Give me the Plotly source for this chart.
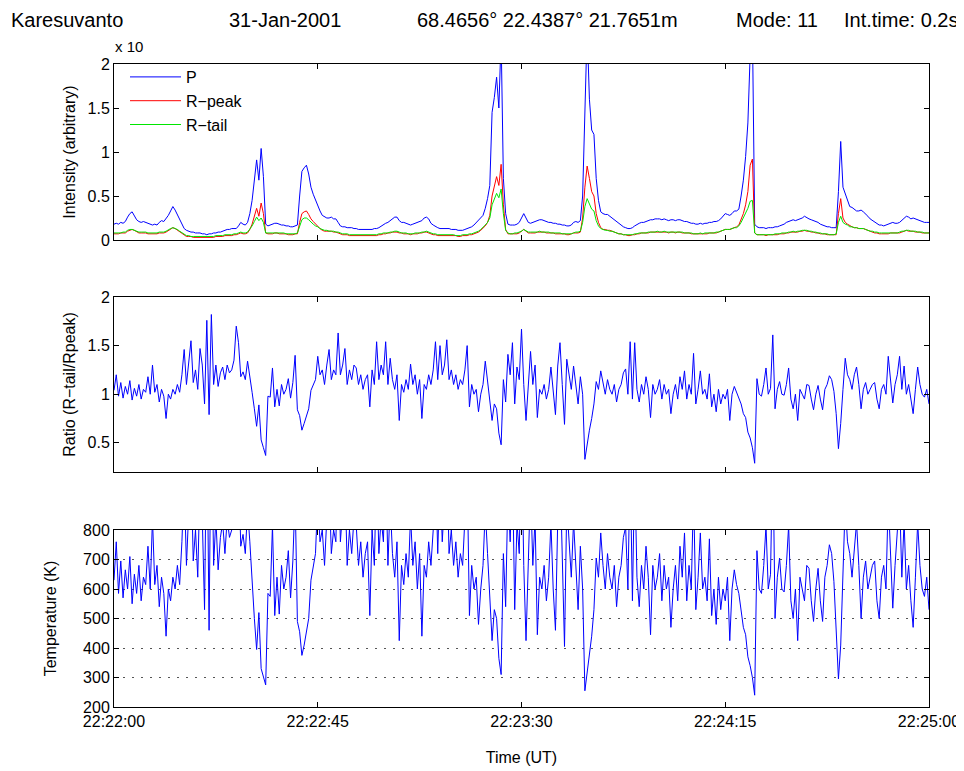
import pandas as pd
import plotly.graph_objects as go
from plotly.subplots import make_subplots

# ---------------- data ----------------
START = "2001-01-31 22:22:00"
END = "2001-01-31 22:25:00"
TIME = pd.date_range(START, periods=361, freq="500ms")

TICK_VALS = ["2001-01-31 22:22:00", "2001-01-31 22:22:45", "2001-01-31 22:23:30",
             "2001-01-31 22:24:15", "2001-01-31 22:25:00"]
TICK_LABELS = ["22:22:00", "22:22:45", "22:23:30", "22:24:15", "22:25:00"]

P = [0.18, 0.19, 0.18, 0.2, 0.19, 0.21,
     0.26, 0.3, 0.32, 0.28,
     0.23, 0.21, 0.2, 0.21, 0.2,
     0.19, 0.18, 0.17, 0.18, 0.17, 0.2,
     0.22, 0.21, 0.24, 0.28, 0.33,
     0.38, 0.34, 0.29,
     0.24, 0.18, 0.13, 0.11, 0.1,
     0.09, 0.09, 0.08, 0.08, 0.08, 0.07, 0.07,
     0.06, 0.07, 0.07, 0.08, 0.08, 0.09, 0.09,
     0.1, 0.11, 0.12, 0.12, 0.13, 0.13, 0.13,
     0.16, 0.2, 0.18, 0.17, 0.2,
     0.3, 0.45, 0.65,
     0.91, 0.68, 1.04, 0.72, 0.18,
     0.16, 0.17, 0.18, 0.19, 0.19, 0.18, 0.17,
     0.17, 0.16, 0.16, 0.15, 0.15, 0.16, 0.17,
     0.5, 0.78, 0.82, 0.85, 0.75, 0.6, 0.52, 0.45, 0.4,
     0.33, 0.28, 0.26, 0.25, 0.25,
     0.26, 0.24, 0.24, 0.2, 0.16,
     0.15, 0.15, 0.14, 0.14, 0.14, 0.13, 0.13, 0.12,
     0.12, 0.12, 0.12, 0.12, 0.12, 0.12, 0.13, 0.13, 0.14, 0.16,
     0.18, 0.19, 0.2, 0.22, 0.24, 0.26,
     0.26, 0.22, 0.2, 0.2, 0.19, 0.18, 0.17,
     0.18, 0.19, 0.2, 0.21, 0.22, 0.25, 0.26,
     0.24, 0.19, 0.17, 0.15, 0.14, 0.13, 0.13,
     0.13, 0.13, 0.13, 0.12, 0.12, 0.12, 0.11, 0.11, 0.11, 0.12,
     0.13, 0.14, 0.15, 0.17, 0.2, 0.22, 0.26,
     0.28, 0.36, 0.47, 0.62, 1.45, 1.62, 1.85, 1.5, 2.3, 0.7, 0.3, 0.18,
     0.17, 0.17, 0.17, 0.18, 0.2, 0.25,
     0.3, 0.25, 0.2,
     0.19, 0.2, 0.21, 0.22, 0.23, 0.23, 0.22,
     0.21, 0.2, 0.2, 0.19, 0.19, 0.18, 0.18,
     0.17, 0.17, 0.16, 0.16, 0.17, 0.2, 0.21,
     0.2, 0.22,
     0.5, 1.6, 2.4, 1.6, 1.25, 1.2, 0.7, 0.45, 0.32,
     0.3, 0.29, 0.29, 0.27, 0.25, 0.22, 0.2,
     0.18, 0.17, 0.15, 0.14, 0.13, 0.13, 0.14, 0.16, 0.18,
     0.19, 0.2, 0.2, 0.21, 0.22, 0.23, 0.23, 0.24, 0.24,
     0.24, 0.23, 0.24, 0.23, 0.22, 0.23, 0.23, 0.22, 0.23, 0.23,
     0.22, 0.21, 0.21, 0.2, 0.19, 0.19, 0.18, 0.18, 0.19,
     0.18, 0.19, 0.19, 0.2, 0.2, 0.21, 0.21, 0.22, 0.24,
     0.27, 0.3, 0.29, 0.28, 0.3, 0.33, 0.33, 0.35,
     0.5, 0.68, 0.95, 1.33, 2.1, 2.4, 0.18, 0.15,
     0.14, 0.14, 0.14, 0.13, 0.14, 0.14, 0.14, 0.15, 0.15, 0.16, 0.17, 0.18, 0.2, 0.21, 0.22,
     0.23, 0.22, 0.23, 0.24, 0.25, 0.27, 0.25, 0.24, 0.23, 0.22, 0.21,
     0.2, 0.18, 0.17, 0.16, 0.15, 0.15, 0.14, 0.14,
     0.14, 0.55, 1.12, 0.6, 0.52, 0.45, 0.38,
     0.37, 0.35, 0.33, 0.33, 0.34, 0.32, 0.3, 0.27,
     0.24, 0.22, 0.2, 0.19, 0.17, 0.17, 0.16, 0.17, 0.18, 0.19,
     0.2, 0.19, 0.19, 0.2, 0.22, 0.25, 0.27, 0.26, 0.24,
     0.25, 0.24, 0.23, 0.22, 0.21, 0.2, 0.2, 0.2]

R_PEAK = [0.07, 0.07, 0.07, 0.08, 0.08, 0.08,
          0.1, 0.11, 0.12, 0.11,
          0.09, 0.08, 0.08, 0.08, 0.08,
          0.07, 0.07, 0.07, 0.07, 0.07, 0.08,
          0.08, 0.08, 0.09, 0.11, 0.13,
          0.14, 0.13, 0.11,
          0.09, 0.07, 0.05, 0.04, 0.04,
          0.04, 0.03, 0.03, 0.03, 0.03, 0.03, 0.03,
          0.03, 0.03, 0.03, 0.03, 0.04, 0.04, 0.04,
          0.04, 0.05, 0.05, 0.05, 0.05, 0.06, 0.06,
          0.07, 0.08, 0.07, 0.07, 0.08,
          0.12, 0.18, 0.26,
          0.36, 0.27, 0.42, 0.3, 0.08,
          0.07, 0.07, 0.07, 0.08, 0.08, 0.07, 0.07,
          0.07, 0.07, 0.06, 0.06, 0.06, 0.07, 0.07,
          0.2, 0.3, 0.32, 0.33, 0.29, 0.24, 0.21, 0.18, 0.16,
          0.13, 0.11, 0.1, 0.1, 0.1,
          0.1, 0.09, 0.09, 0.08, 0.07,
          0.06, 0.06, 0.06, 0.05, 0.05, 0.05, 0.05, 0.05,
          0.05, 0.05, 0.05, 0.05, 0.05, 0.05, 0.05, 0.05, 0.06, 0.06,
          0.07, 0.07, 0.08, 0.08, 0.09, 0.09,
          0.09, 0.08, 0.08, 0.07, 0.07, 0.07, 0.06,
          0.07, 0.07, 0.07, 0.08, 0.08, 0.09, 0.09,
          0.08, 0.07, 0.06, 0.06, 0.05, 0.05, 0.05,
          0.05, 0.05, 0.05, 0.05, 0.05, 0.05, 0.04, 0.04, 0.05, 0.05,
          0.05, 0.06, 0.06, 0.07, 0.08, 0.09, 0.11,
          0.13, 0.16, 0.2, 0.28, 0.5, 0.6, 0.72, 0.62, 0.86, 0.4, 0.12, 0.07,
          0.07, 0.07, 0.07, 0.07, 0.08, 0.1,
          0.12, 0.1, 0.08,
          0.08, 0.08, 0.08, 0.09, 0.09, 0.09, 0.09,
          0.08, 0.08, 0.08, 0.08, 0.07, 0.07, 0.07,
          0.07, 0.07, 0.06, 0.06, 0.07, 0.08, 0.08,
          0.08, 0.09,
          0.25, 0.6, 0.84, 0.7, 0.55, 0.5, 0.3, 0.2, 0.14,
          0.12, 0.12, 0.11, 0.11, 0.1, 0.09, 0.08,
          0.07, 0.07, 0.06, 0.06, 0.05, 0.05, 0.06, 0.06, 0.07,
          0.07, 0.08, 0.08, 0.08, 0.08, 0.09, 0.09, 0.09, 0.09,
          0.09, 0.09, 0.09, 0.09, 0.08, 0.09, 0.09, 0.08, 0.09, 0.09,
          0.08, 0.08, 0.08, 0.08, 0.07, 0.07, 0.07, 0.07, 0.07,
          0.07, 0.07, 0.07, 0.08, 0.08, 0.08, 0.08, 0.09, 0.1,
          0.11, 0.12, 0.12, 0.12, 0.13, 0.14, 0.15, 0.17,
          0.23, 0.3, 0.4, 0.55, 0.85, 0.92, 0.08, 0.06,
          0.06, 0.06, 0.06, 0.05, 0.06, 0.06, 0.06, 0.06, 0.06, 0.07, 0.07, 0.07, 0.08, 0.08, 0.09,
          0.09, 0.09, 0.09, 0.1, 0.1, 0.11, 0.1, 0.1, 0.09, 0.09, 0.08,
          0.08, 0.07, 0.07, 0.07, 0.06, 0.06, 0.06, 0.06,
          0.06, 0.3, 0.47, 0.25, 0.2, 0.18, 0.16,
          0.15, 0.14, 0.14, 0.13, 0.13, 0.13, 0.12, 0.11,
          0.1, 0.09, 0.08, 0.08, 0.07, 0.07, 0.07, 0.07, 0.07, 0.08,
          0.08, 0.08, 0.08, 0.08, 0.09, 0.1, 0.11, 0.1, 0.1,
          0.1, 0.09, 0.09, 0.09, 0.08, 0.08, 0.08, 0.08]

R_TAIL = [0.08, 0.08, 0.08, 0.08, 0.09, 0.09,
          0.11, 0.12, 0.12, 0.11,
          0.1, 0.09, 0.09, 0.09, 0.09,
          0.08, 0.08, 0.08, 0.08, 0.08, 0.09,
          0.09, 0.09, 0.1, 0.12, 0.13,
          0.14, 0.13, 0.12,
          0.1, 0.08, 0.06, 0.05, 0.05,
          0.04, 0.04, 0.04, 0.04, 0.04, 0.04, 0.04,
          0.04, 0.04, 0.04, 0.04, 0.05, 0.05, 0.05,
          0.05, 0.06, 0.06, 0.06, 0.06, 0.07, 0.07,
          0.08, 0.09, 0.08, 0.08, 0.09,
          0.12, 0.16, 0.21,
          0.26, 0.22, 0.25, 0.2, 0.08,
          0.08, 0.08, 0.08, 0.08, 0.08, 0.08, 0.08,
          0.08, 0.07, 0.07, 0.07, 0.07, 0.07, 0.08,
          0.17, 0.23, 0.25, 0.25, 0.23, 0.2, 0.18, 0.16, 0.15,
          0.13, 0.12, 0.11, 0.11, 0.1,
          0.1, 0.1, 0.09, 0.09, 0.08,
          0.07, 0.07, 0.07, 0.06, 0.06, 0.06, 0.06, 0.06,
          0.06, 0.06, 0.06, 0.06, 0.06, 0.06, 0.06, 0.06, 0.07, 0.07,
          0.08, 0.08, 0.08, 0.09, 0.09, 0.1,
          0.1, 0.09, 0.08, 0.08, 0.08, 0.07, 0.07,
          0.07, 0.08, 0.08, 0.08, 0.09, 0.09, 0.1,
          0.09, 0.08, 0.07, 0.07, 0.06, 0.06, 0.06,
          0.06, 0.06, 0.06, 0.06, 0.06, 0.05, 0.05, 0.05, 0.06, 0.06,
          0.06, 0.07, 0.07, 0.08, 0.09, 0.1, 0.12,
          0.14, 0.17, 0.2, 0.25, 0.4, 0.47, 0.53, 0.48, 0.58, 0.3, 0.11, 0.08,
          0.07, 0.07, 0.08, 0.08, 0.09, 0.1,
          0.12, 0.1, 0.09,
          0.09, 0.09, 0.09, 0.09, 0.1, 0.09, 0.09,
          0.09, 0.09, 0.08, 0.08, 0.08, 0.08, 0.08,
          0.07, 0.07, 0.07, 0.07, 0.07, 0.08, 0.09,
          0.09, 0.1,
          0.2, 0.38, 0.47, 0.4, 0.35, 0.33, 0.22, 0.16, 0.13,
          0.12, 0.11, 0.11, 0.1, 0.1, 0.09, 0.08,
          0.07, 0.07, 0.06, 0.06, 0.06, 0.06, 0.06, 0.07, 0.07,
          0.08, 0.08, 0.08, 0.08, 0.09, 0.09, 0.09, 0.09, 0.1,
          0.09, 0.09, 0.1, 0.09, 0.09, 0.09, 0.09, 0.09, 0.09, 0.09,
          0.09, 0.08, 0.08, 0.08, 0.08, 0.07, 0.07, 0.07, 0.08,
          0.07, 0.08, 0.08, 0.08, 0.08, 0.08, 0.09, 0.09, 0.1,
          0.11, 0.12, 0.12, 0.12, 0.13, 0.14, 0.14, 0.16,
          0.2, 0.25, 0.3, 0.36, 0.44, 0.45, 0.08, 0.06,
          0.06, 0.06, 0.06, 0.06, 0.06, 0.06, 0.06, 0.07, 0.07, 0.07, 0.08, 0.08, 0.08, 0.09, 0.09,
          0.1, 0.09, 0.1, 0.1, 0.11, 0.11, 0.11, 0.1, 0.1, 0.09, 0.09,
          0.08, 0.08, 0.07, 0.07, 0.07, 0.06, 0.06, 0.06,
          0.07, 0.2, 0.27, 0.2, 0.18, 0.17, 0.15,
          0.15, 0.14, 0.14, 0.13, 0.13, 0.13, 0.12, 0.11,
          0.1, 0.1, 0.09, 0.09, 0.08, 0.08, 0.08, 0.08, 0.08, 0.08,
          0.08, 0.08, 0.08, 0.09, 0.1, 0.1, 0.11, 0.11, 0.1,
          0.1, 0.1, 0.09, 0.09, 0.09, 0.08, 0.08, 0.08]

RATIO = [1.04, 1.2, 0.98, 1.12, 0.96, 1.08, 1.0, 1.14, 0.94, 1.06,
         0.98, 1.1, 0.95, 1.05, 1.02, 1.18, 1.0, 1.3, 1.02, 1.1,
         0.92, 1.05, 0.98, 0.75, 1.0, 0.95, 1.05, 1.0, 1.1, 1.02,
         1.2, 1.46, 1.1, 1.3, 1.55, 1.12, 1.25, 1.05, 1.47, 1.3,
         0.9, 1.76, 0.79, 1.82, 1.1, 1.3, 1.08, 1.22, 1.28, 1.15,
         1.3, 1.22, 1.25, 1.35, 1.7, 1.53, 1.18, 1.23, 1.15, 1.34,
         1.2, 1.02, 0.85, 0.67, 0.89, 0.53, 0.45, 0.37, 0.98, 0.97,
         1.27, 0.87, 1.05, 0.88, 1.1, 1.0, 1.05, 1.16, 0.96, 1.12,
         1.4, 0.84, 0.78, 0.63, 0.7, 0.77, 0.85, 1.04, 1.1, 1.15,
         1.39, 1.2, 1.25, 1.1, 1.3, 1.46, 1.15, 1.25, 1.2, 1.63,
         1.2, 1.3, 1.47, 1.1, 1.25, 1.15, 1.3, 1.27, 1.1, 1.2,
         1.05, 1.15, 1.2, 0.87, 1.25, 1.1, 1.54, 1.15, 1.3, 1.2,
         1.54, 1.1, 1.37, 1.15, 1.05, 1.2, 0.73, 1.1, 1.02, 1.15,
         1.05, 1.31, 1.1, 1.2, 1.0, 1.15, 0.75, 1.1, 1.05, 1.2,
         1.1, 1.25, 1.54, 1.15, 1.5, 1.2, 1.3, 1.56, 1.15, 1.25,
         1.1, 1.2, 1.05, 1.15, 1.1, 1.25, 1.5, 0.87, 1.1, 1.0,
         1.05, 0.82, 1.0, 1.1, 1.34, 1.15, 0.95, 0.73, 0.9, 0.85,
         0.6, 0.48, 1.15, 0.92, 1.41, 1.2, 1.53, 0.9, 1.28, 1.15,
         1.67, 1.1, 0.73, 1.15, 1.44, 1.1, 1.3, 0.76, 1.05, 1.0,
         1.1, 0.95, 1.05, 1.28, 1.0, 0.79, 1.29, 1.53, 1.1, 0.69,
         1.36, 1.2, 1.05, 1.29, 1.1, 0.9, 1.18, 1.0, 0.33, 0.5,
         0.63, 0.75, 0.9, 1.13, 1.05, 1.24, 1.1, 1.0, 1.15, 1.05,
         1.0, 1.1, 0.92, 1.05, 1.1, 1.22, 1.26, 1.0, 1.54, 0.95,
         1.53, 1.05, 0.92, 1.1, 1.0, 1.18, 1.05, 0.76, 1.1, 1.0,
         1.05, 1.15, 0.95, 1.1, 1.0, 1.05, 0.8, 1.0, 1.1, 0.95,
         1.18, 1.05, 1.24, 0.95, 1.1, 1.0, 1.42, 0.9, 1.05, 1.24,
         1.0, 1.05, 0.95, 1.21, 0.87, 1.0, 0.82, 1.05, 0.9, 1.0,
         0.95, 1.05, 0.73, 1.0, 1.08, 1.02, 0.98, 0.9, 0.8, 0.76,
         0.61, 0.55, 0.45, 0.29, 1.16, 1.0, 0.98, 1.1, 1.27, 1.0,
         1.06, 1.61, 0.85, 1.05, 1.13, 1.0, 0.99, 1.1, 1.27, 0.95,
         0.85, 1.0, 0.73, 1.05, 1.0, 0.95, 1.1, 1.09, 0.95, 0.84,
         1.0, 1.09, 0.95, 0.84, 1.05, 1.1, 1.19, 1.15, 1.03, 0.8,
         0.44, 0.7, 1.05, 1.37, 1.2, 1.15, 1.05, 1.2, 1.28, 1.1,
         0.85, 1.05, 1.12, 1.0, 1.05, 1.1, 1.12, 0.95, 0.85, 1.05,
         1.1, 1.0, 1.39, 1.15, 0.91, 1.1, 1.2, 1.39, 1.05, 1.29,
         1.0, 1.1, 0.95, 0.8, 1.05, 1.28, 1.1, 1.0, 0.97, 1.05,
         0.9]

TEMP = [630, 760, 585, 695, 570, 665, 600, 710, 550, 650,
        585, 680, 560, 640, 615, 745, 600, 840, 615, 680,
        540, 640, 585, 440, 600, 560, 640, 600, 680, 615,
        760, 970, 680, 840, 1040, 695, 800, 640, 975, 840,
        530, 1210, 460, 1260, 680, 840, 665, 775, 825, 720,
        840, 775, 800, 880, 1160, 1020, 745, 785, 720, 870,
        760, 615, 500, 395, 520, 330, 300, 275, 585, 575,
        815, 510, 640, 515, 680, 600, 640, 730, 570, 695,
        920, 490, 455, 375, 410, 450, 500, 630, 680, 720,
        910, 760, 800, 680, 840, 970, 720, 800, 760, 1100,
        760, 840, 975, 680, 800, 720, 840, 815, 680, 760,
        640, 720, 760, 510, 800, 680, 1030, 720, 840, 760,
        1030, 680, 895, 720, 640, 760, 425, 680, 615, 720,
        640, 850, 680, 760, 600, 720, 440, 680, 640, 760,
        680, 800, 1030, 720, 1000, 760, 840, 1050, 720, 800,
        680, 760, 640, 720, 680, 800, 1000, 510, 680, 600,
        640, 480, 600, 680, 870, 720, 560, 425, 530, 500,
        365, 310, 720, 540, 930, 760, 1020, 530, 825, 720,
        1140, 680, 425, 720, 950, 680, 840, 445, 640, 600,
        680, 560, 640, 825, 600, 460, 830, 1020, 680, 405,
        890, 760, 640, 830, 680, 530, 745, 600, 255, 320,
        375, 440, 530, 705, 640, 790, 680, 600, 720, 640,
        600, 680, 540, 640, 680, 775, 810, 600, 1030, 560,
        1020, 640, 540, 680, 600, 745, 640, 445, 680, 600,
        640, 720, 560, 680, 600, 640, 470, 600, 680, 560,
        745, 640, 790, 560, 680, 600, 935, 530, 640, 790,
        600, 640, 560, 770, 510, 600, 480, 640, 530, 600,
        560, 640, 425, 600, 665, 615, 585, 530, 470, 445,
        370, 340, 300, 240, 730, 600, 585, 680, 815, 600,
        650, 1090, 500, 640, 705, 600, 590, 680, 815, 560,
        500, 600, 425, 640, 600, 560, 680, 670, 560, 490,
        600, 670, 560, 490, 640, 680, 750, 720, 625, 470,
        295, 410, 640, 895, 760, 720, 640, 760, 825, 680,
        500, 640, 695, 600, 640, 680, 695, 560, 500, 640,
        680, 600, 910, 720, 535, 680, 760, 910, 640, 830,
        600, 680, 560, 470, 640, 825, 680, 600, 575, 640,
        530]

HEADER = ["Karesuvanto", "31-Jan-2001", "68.4656\u00b0 22.4387\u00b0 21.7651m",
          "Mode: 11", "Int.time: 0.2s"]
HEADER_X_PX = [9, 227, 415, 734, 961]
HEADER_ANCHOR = ["left", "left", "left", "left", "right"]

# ---------------- figure ----------------
# the page body has an 8px margin, so the figure is drawn 8px smaller and
# every pixel position below is given in window coordinates
OFF = 8
WIN_W, WIN_H = 964, 771
W, H = WIN_W - OFF, WIN_H - OFF
X0, X1, Y0, Y1 = 114, 929, 64, 707          # plot area in window pixels
ML, MT = X0 - OFF, Y0 - OFF
MR, MB = W - (X1 - OFF), H - (Y1 - OFF)
PW, PH = X1 - X0, Y1 - Y0

def py(px):  # window pixel y -> paper y
    return (Y1 - px) / PH

def pxx(px):  # window pixel x -> paper x
    return (px - X0) / PW

FONT = "Liberation Sans, Arial, Helvetica, sans-serif"
BLUE, RED, GREEN = "#0000ff", "#ff0000", "#00e600"

fig = make_subplots(rows=3, cols=1, shared_xaxes=False, vertical_spacing=0.0)

fig.add_trace(go.Scatter(x=TIME, y=P, mode="lines", name="P",
                         line=dict(color=BLUE, width=1)), row=1, col=1)
fig.add_trace(go.Scatter(x=TIME, y=R_PEAK, mode="lines", name="R\u2212peak",
                         line=dict(color=RED, width=1)), row=1, col=1)
fig.add_trace(go.Scatter(x=TIME, y=R_TAIL, mode="lines", name="R\u2212tail",
                         line=dict(color=GREEN, width=1)), row=1, col=1)
fig.add_trace(go.Scatter(x=TIME, y=RATIO, mode="lines", showlegend=False,
                         line=dict(color=BLUE, width=1)), row=2, col=1)
fig.add_trace(go.Scatter(x=TIME, y=TEMP, mode="lines", showlegend=False,
                         line=dict(color=BLUE, width=1)), row=3, col=1)

domains = [[py(240), py(64)], [py(472), py(297)], [py(707), py(530)]]

axis_common = dict(showline=True, linecolor="black", linewidth=1, mirror="ticks",
                   ticks="inside", ticklen=5, tickcolor="black", tickwidth=1,
                   zeroline=False, tickfont=dict(family=FONT, size=16, color="black"))

for r in range(1, 4):
    fig.update_xaxes(row=r, col=1, type="date", range=[START, END],
                     tickvals=TICK_VALS, ticktext=TICK_LABELS,
                     showticklabels=(r == 3), showgrid=False, **axis_common)

TITLE_FONT = dict(family=FONT, size=16, color="black")
fig.update_yaxes(row=1, col=1, range=[0, 2], tickvals=[0, 0.5, 1, 1.5, 2],
                 ticktext=["0", "0.5", "1", "1.5", "2"], showgrid=False,
                 domain=domains[0],
                 title=dict(text="Intensity (arbitrary)", standoff=7, font=TITLE_FONT),
                 **axis_common)
fig.update_yaxes(row=2, col=1, range=[0.2, 2], tickvals=[0.5, 1, 1.5, 2],
                 ticktext=["0.5", "1", "1.5", "2"], showgrid=False,
                 domain=domains[1],
                 title=dict(text="Ratio (R\u2212tail/Rpeak)", standoff=7, font=TITLE_FONT),
                 **axis_common)
fig.update_yaxes(row=3, col=1, range=[200, 800],
                 tickvals=[200, 300, 400, 500, 600, 700, 800], showgrid=True,
                 gridcolor="#555555", griddash="2px,7px", gridwidth=1,
                 domain=domains[2],
                 title=dict(text="Temperature (K)", standoff=22, font=TITLE_FONT),
                 **axis_common)
fig.update_xaxes(row=3, col=1,
                 title=dict(text="Time (UT)", standoff=22, font=TITLE_FONT))

annotations = []
for txt, xp, anc in zip(HEADER, HEADER_X_PX, HEADER_ANCHOR):
    annotations.append(dict(text=txt, x=pxx(xp), y=py(20), xref="paper", yref="paper",
                            xanchor=anc, yanchor="middle", showarrow=False,
                            font=dict(family=FONT, size=20, color="black")))
annotations.append(dict(text="x 10", x=pxx(113), y=py(47), xref="paper", yref="paper",
                        xanchor="left", yanchor="middle", showarrow=False,
                        font=dict(family=FONT, size=15, color="black")))

fig.update_layout(
    width=W, height=H, autosize=False,
    margin=dict(l=ML, r=MR, t=MT, b=MB, autoexpand=False),
    paper_bgcolor="white", plot_bgcolor="white",
    font=dict(family=FONT, size=16, color="black"),
    annotations=annotations,
    legend=dict(x=pxx(125), y=py(60), xanchor="left", yanchor="top",
                bgcolor="rgba(255,255,255,0)", borderwidth=0,
                font=dict(family=FONT, size=16, color="black"),
                tracegroupgap=0, itemwidth=51),
    showlegend=True,
)

fig.write_html("out.html")
